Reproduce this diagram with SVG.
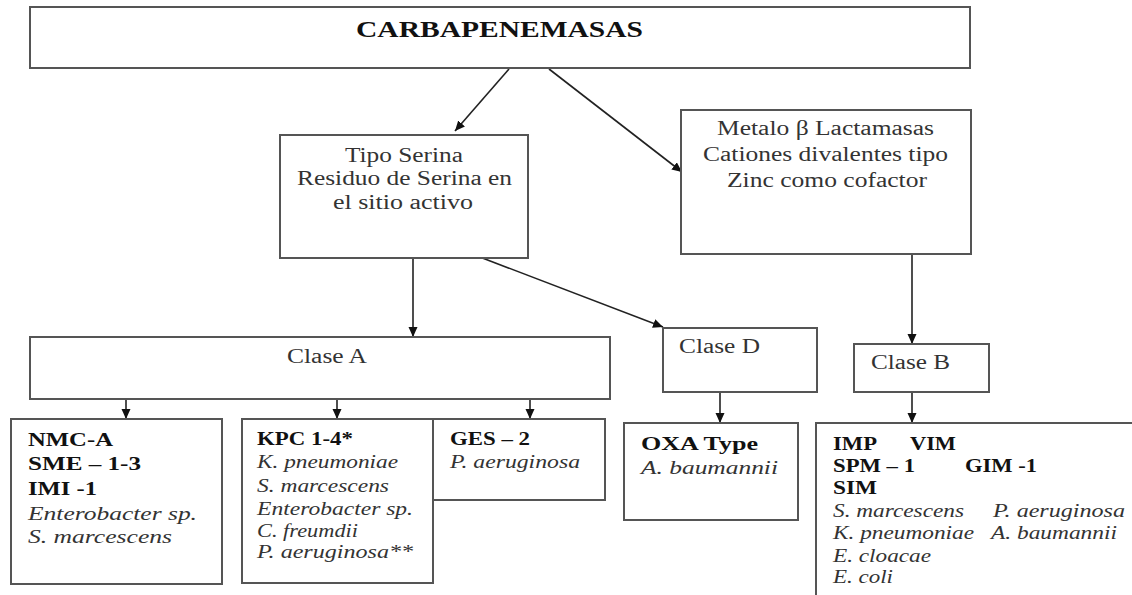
<svg xmlns="http://www.w3.org/2000/svg" width="1132" height="595" viewBox="0 0 1132 595" font-family="'Liberation Serif', 'DejaVu Serif', 'Times New Roman', serif">
<style>
.box{fill:#fff;stroke:#555;stroke-width:2}
.c{stroke:#222;stroke-width:1.6;fill:none;marker-end:url(#ah)}
text{font-family:'Liberation Serif','DejaVu Serif','Times New Roman',serif;fill:#222}
.t{font-size:20px;fill:#333}
.b{font-size:18px;font-weight:bold;fill:#111}
.i{font-size:18px;font-style:italic;fill:#333}
.title{font-size:23px;font-weight:bold;fill:#111}
</style>
<defs>
<marker id="ah" markerUnits="userSpaceOnUse" markerWidth="11" markerHeight="10" refX="10" refY="4.5" orient="auto">
<path d="M0,0 L10,4.5 L0,9 z" fill="#111"/>
</marker>
</defs>
<rect width="1132" height="595" fill="#fff"/>
<g id="connectors">
<line class="c" x1="509" y1="69" x2="455" y2="131"/>
<line class="c" x1="549" y1="69" x2="682" y2="172"/>
<line class="c" x1="413" y1="253" x2="413" y2="337"/>
<line class="c" x1="472" y1="254" x2="663" y2="327"/>
<line class="c" x1="912" y1="254" x2="912" y2="344"/>
<line class="c" x1="126" y1="399" x2="126" y2="419"/>
<line class="c" x1="337" y1="399" x2="337" y2="419"/>
<line class="c" x1="530" y1="399" x2="530" y2="419"/>
<line class="c" x1="720" y1="392" x2="720" y2="423"/>
<line class="c" x1="912" y1="392" x2="912" y2="423"/>
</g>
<g id="carbapenemasas">
<rect class="box" x="30" y="7" width="940" height="61"/>
<text class="title" x="356" y="37" textLength="287" lengthAdjust="spacingAndGlyphs">CARBAPENEMASAS</text>
</g>
<g id="tipo-serina">
<rect class="box" x="280" y="135" width="248" height="123"/>
<text class="t" x="345" y="162" textLength="118" lengthAdjust="spacingAndGlyphs">Tipo Serina</text>
<text class="t" x="297" y="185" textLength="215" lengthAdjust="spacingAndGlyphs">Residuo de Serina en</text>
<text class="t" x="333" y="209" textLength="140" lengthAdjust="spacingAndGlyphs">el sitio activo</text>
</g>
<g id="metalo">
<rect class="box" x="681" y="110" width="290" height="144"/>
<text class="t" x="717" y="135" textLength="217" lengthAdjust="spacingAndGlyphs">Metalo β Lactamasas</text>
<text class="t" x="703" y="161" textLength="245" lengthAdjust="spacingAndGlyphs">Cationes divalentes tipo</text>
<text class="t" x="727" y="187" textLength="200" lengthAdjust="spacingAndGlyphs">Zinc como cofactor</text>
</g>
<g id="clase-a">
<rect class="box" x="30" y="337" width="580" height="62"/>
<text class="t" x="287" y="363" textLength="80" lengthAdjust="spacingAndGlyphs">Clase A</text>
</g>
<g id="clase-d">
<rect class="box" x="663" y="328" width="154" height="64"/>
<text class="t" x="679" y="353" textLength="81" lengthAdjust="spacingAndGlyphs">Clase D</text>
</g>
<g id="clase-b">
<rect class="box" x="854" y="344" width="135" height="48"/>
<text class="t" x="871" y="369" textLength="79" lengthAdjust="spacingAndGlyphs">Clase B</text>
</g>
<g id="nmc">
<rect class="box" x="11" y="419" width="211" height="165"/>
<text class="b" x="28" y="446" textLength="85" lengthAdjust="spacingAndGlyphs">NMC-A</text>
<text class="b" x="28" y="470" textLength="113" lengthAdjust="spacingAndGlyphs">SME – 1-3</text>
<text class="b" x="28" y="495" textLength="69" lengthAdjust="spacingAndGlyphs">IMI -1</text>
<text class="i" x="28" y="520" textLength="169" lengthAdjust="spacingAndGlyphs">Enterobacter sp.</text>
<text class="i" x="28" y="543" textLength="144" lengthAdjust="spacingAndGlyphs">S. marcescens</text>
</g>
<g id="kpc">
<rect class="box" x="242" y="419" width="191" height="164"/>
<text class="b" x="257" y="445" textLength="96" lengthAdjust="spacingAndGlyphs">KPC 1-4*</text>
<text class="i" x="257" y="468" textLength="141" lengthAdjust="spacingAndGlyphs">K. pneumoniae</text>
<text class="i" x="257" y="492" textLength="132" lengthAdjust="spacingAndGlyphs">S. marcescens</text>
<text class="i" x="257" y="515" textLength="156" lengthAdjust="spacingAndGlyphs">Enterobacter sp.</text>
<text class="i" x="257" y="537" textLength="101" lengthAdjust="spacingAndGlyphs">C. freumdii</text>
<text class="i" x="257" y="558" textLength="156" lengthAdjust="spacingAndGlyphs">P. aeruginosa**</text>
</g>
<g id="ges">
<rect class="box" x="433" y="419" width="172" height="81"/>
<text class="b" x="450" y="445" textLength="80" lengthAdjust="spacingAndGlyphs">GES – 2</text>
<text class="i" x="450" y="468" textLength="130" lengthAdjust="spacingAndGlyphs">P. aeruginosa</text>
</g>
<g id="oxa">
<rect class="box" x="624" y="423" width="174" height="97"/>
<text class="b" x="641" y="450" textLength="117" lengthAdjust="spacingAndGlyphs">OXA Type</text>
<text class="i" x="641" y="474" textLength="137" lengthAdjust="spacingAndGlyphs">A. baumannii</text>
</g>
<g id="clase-b-list">
<rect class="box" x="816" y="423" width="330" height="190"/>
<text class="b" x="833" y="450" textLength="44" lengthAdjust="spacingAndGlyphs">IMP</text>
<text class="b" x="910" y="450" textLength="46" lengthAdjust="spacingAndGlyphs">VIM</text>
<text class="b" x="833" y="472" textLength="82" lengthAdjust="spacingAndGlyphs">SPM – 1</text>
<text class="b" x="965" y="472" textLength="72" lengthAdjust="spacingAndGlyphs">GIM -1</text>
<text class="b" x="833" y="494" textLength="44" lengthAdjust="spacingAndGlyphs">SIM</text>
<text class="i" x="833" y="517" textLength="131" lengthAdjust="spacingAndGlyphs">S. marcescens</text>
<text class="i" x="993" y="517" textLength="132" lengthAdjust="spacingAndGlyphs">P. aeruginosa</text>
<text class="i" x="833" y="539" textLength="141" lengthAdjust="spacingAndGlyphs">K. pneumoniae</text>
<text class="i" x="991" y="539" textLength="126" lengthAdjust="spacingAndGlyphs">A. baumannii</text>
<text class="i" x="833" y="562" textLength="98" lengthAdjust="spacingAndGlyphs">E. cloacae</text>
<text class="i" x="833" y="583" textLength="60" lengthAdjust="spacingAndGlyphs">E. coli</text>
</g>
</svg>
